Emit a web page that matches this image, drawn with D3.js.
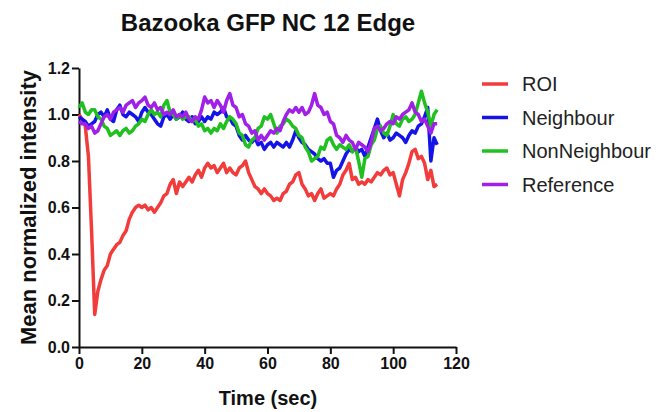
<!DOCTYPE html>
<html>
<head>
<meta charset="utf-8">
<script src="https://cdn.jsdelivr.net/npm/d3@7"></script>
<style>
  html, body { margin: 0; padding: 0; background: #fff; }
  svg { display: block; font-family: "Liberation Sans", Arial, sans-serif; }
</style>
</head>
<body>
<svg id="chart" width="666" height="412"></svg>
<script>
// Sampling interval of the recordings (seconds)
const sampleStep = 1;

const roi = [1.00,0.98,0.95,0.82,0.50,0.14,0.24,0.29,0.33,0.35,
  0.40,0.42,0.44,0.45,0.48,0.50,0.55,0.58,0.60,0.61,
  0.60,0.61,0.59,0.60,0.58,0.60,0.62,0.65,0.66,0.70,
  0.72,0.66,0.71,0.69,0.71,0.73,0.71,0.74,0.76,0.73,
  0.77,0.79,0.77,0.78,0.75,0.77,0.79,0.75,0.77,0.75,
  0.74,0.77,0.78,0.80,0.75,0.72,0.69,0.68,0.66,0.68,
  0.66,0.65,0.63,0.64,0.63,0.66,0.67,0.70,0.71,0.74,
  0.75,0.70,0.68,0.65,0.66,0.63,0.66,0.68,0.64,0.65,
  0.66,0.65,0.68,0.70,0.74,0.76,0.79,0.72,0.73,0.70,
  0.71,0.70,0.72,0.71,0.73,0.75,0.74,0.76,0.77,0.74,
  0.75,0.70,0.65,0.72,0.75,0.79,0.84,0.85,0.81,0.82,
  0.79,0.72,0.76,0.69,0.70];

const neighbour = [0.99,0.98,0.97,0.95,0.96,0.97,1.00,1.01,0.99,1.02,
  0.98,0.97,1.02,1.04,1.00,0.99,1.01,1.00,0.99,0.97,
  1.01,1.03,1.01,1.00,0.98,0.96,0.95,0.99,1.00,0.98,
  1.00,0.98,0.99,1.01,0.98,0.97,0.99,0.96,0.97,0.99,
  0.97,0.99,0.98,1.01,1.00,1.01,1.03,0.99,0.985,0.96,
  0.95,0.91,0.89,0.91,0.89,0.88,0.90,0.87,0.88,0.85,
  0.87,0.88,0.86,0.88,0.87,0.86,0.88,0.86,0.89,0.93,
  0.90,0.88,0.87,0.85,0.84,0.83,0.81,0.80,0.81,0.79,
  0.79,0.73,0.76,0.77,0.80,0.83,0.85,0.84,0.86,0.84,
  0.85,0.82,0.86,0.90,0.94,0.98,0.93,0.90,0.92,0.89,
  0.90,0.92,0.91,0.90,0.88,0.91,0.93,0.92,0.95,0.96,
  0.99,1.03,0.80,0.90,0.87];

const nonNeighbour = [1.03,1.05,1.01,1.00,1.02,1.02,0.99,0.98,0.95,0.94,
  0.91,0.92,0.93,0.91,0.93,0.94,0.92,0.93,0.95,0.96,
  0.98,0.97,1.00,1.02,1.00,1.01,0.99,1.04,1.06,1.01,
  1.00,0.98,1.00,0.98,0.99,0.99,0.97,0.98,0.95,0.96,
  0.93,0.94,0.92,0.94,0.93,0.96,0.94,0.97,0.99,0.98,
  0.96,0.92,0.91,0.87,0.86,0.89,0.90,0.94,0.95,0.99,
  0.98,1.00,0.96,0.92,0.95,0.96,0.98,0.97,0.95,0.94,
  0.91,0.90,0.86,0.84,0.80,0.81,0.82,0.86,0.85,0.89,
  0.90,0.87,0.85,0.87,0.86,0.85,0.87,0.84,0.86,0.80,
  0.73,0.81,0.82,0.87,0.89,0.94,0.95,0.92,0.91,0.95,
  1.00,0.96,0.95,0.98,0.99,0.97,0.98,1.00,1.05,1.10,
  1.05,1.01,0.95,1.00,1.02];

const reference = [0.97,0.96,0.96,0.94,0.95,0.92,0.93,0.96,0.99,1.00,
  0.98,1.01,1.02,1.03,1.01,1.04,1.05,1.06,1.03,1.05,
  1.06,1.075,1.04,1.03,1.05,1.02,1.03,1.00,1.01,1.00,
  1.02,0.99,1.00,0.99,1.01,0.98,0.97,0.99,0.98,1.02,
  1.075,1.05,1.06,1.03,1.06,1.04,1.01,1.06,1.09,1.04,
  1.03,0.99,1.00,0.96,0.95,0.92,0.93,0.89,0.91,0.89,
  0.91,0.93,0.92,0.94,0.93,0.97,1.00,1.02,1.01,1.03,
  1.01,1.03,1.00,1.01,1.04,1.09,1.04,1.03,1.00,1.01,
  0.97,0.96,0.91,0.90,0.88,0.91,0.89,0.88,0.85,0.88,
  0.87,0.86,0.84,0.88,0.94,0.95,0.93,0.94,0.96,0.97,
  0.96,0.99,0.98,1.00,1.01,1.02,1.05,1.01,1.00,0.97,
  0.98,0.95,0.92,0.96,0.96];

const seriesNames = ["ROI", "Neighbour", "NonNeighbour", "Reference"];
const seriesColors = ["#f23c3c", "#1414e6", "#1fc01f", "#a020e8"];
const xTicks = [0, 20, 40, 60, 80, 100, 120];
const yTicks = [0.0, 0.2, 0.4, 0.6, 0.8, 1.0, 1.2];

const chartTitle = "Bazooka GFP NC 12 Edge";
const xTitle = "Time (sec)";
const yTitle = "Mean normalized intensity";

const svg = d3.select("#chart");

const x = d3.scaleLinear().domain([0, 120]).range([79, 456]);
const y = d3.scaleLinear().domain([0, 1.2]).range([347, 68]);

// Title
svg.append("text")
  .attr("x", 268).attr("y", 31)
  .attr("text-anchor", "middle")
  .attr("font-size", 24).attr("font-weight", "bold")
  .attr("fill", "#111")
  .text(chartTitle);

// Axes
const xAxis = svg.append("g")
  .attr("transform", `translate(0,${y(0)})`)
  .call(d3.axisBottom(x).tickValues(xTicks).tickSize(7).tickSizeOuter(0).tickPadding(4).tickFormat(d3.format("d")));
const yAxis = svg.append("g")
  .attr("transform", `translate(${x(0)},0)`)
  .call(d3.axisLeft(y).tickValues(yTicks).tickSize(7).tickSizeOuter(0).tickPadding(2).tickFormat(d3.format(".1f")));

[xAxis, yAxis].forEach(g => {
  g.select(".domain").attr("stroke", "#111").attr("stroke-width", 2);
  g.selectAll(".tick line").attr("stroke", "#111").attr("stroke-width", 2);
  g.selectAll(".tick text")
    .attr("font-family", "'Liberation Sans', Arial, sans-serif")
    .attr("font-size", 16).attr("font-weight", "bold").attr("fill", "#111");
});

// Axis titles
svg.append("text")
  .attr("x", 268).attr("y", 405)
  .attr("text-anchor", "middle")
  .attr("font-size", 20).attr("font-weight", "bold").attr("fill", "#111")
  .text(xTitle);
svg.append("text")
  .attr("transform", `translate(36,${(y(0) + y(1.2)) / 2}) rotate(-90)`)
  .attr("text-anchor", "middle")
  .attr("font-size", 22).attr("font-weight", "bold").attr("fill", "#111")
  .text(yTitle);

// Traces
const allSeries = [roi, neighbour, nonNeighbour, reference];
const line = d3.line()
  .x((d, i) => x(i * sampleStep))
  .y(d => y(d));

const plot = svg.append("g");
allSeries.forEach((vals, k) => {
  plot.append("path")
    .datum(vals)
    .attr("fill", "none")
    .attr("stroke", seriesColors[k])
    .attr("stroke-width", 3.5)
    .attr("stroke-linejoin", "round")
    .attr("d", line);
});

// Legend
const legend = svg.append("g");
seriesNames.forEach((name, k) => {
  const ly = 84 + k * 33.5;
  legend.append("line")
    .attr("x1", 482).attr("x2", 508)
    .attr("y1", ly).attr("y2", ly)
    .attr("stroke", seriesColors[k]).attr("stroke-width", 3.5);
  legend.append("text")
    .attr("x", 522).attr("y", ly + 7)
    .attr("font-size", 20).attr("fill", "#222")
    .text(name);
});
</script>
</body>
</html>
